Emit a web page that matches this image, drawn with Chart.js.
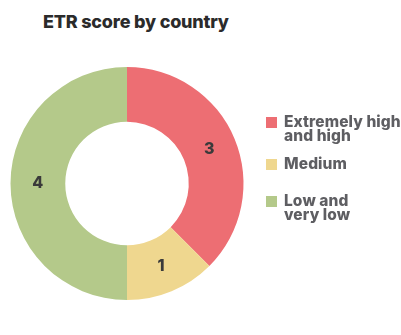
<!DOCTYPE html>
<html lang="en">
<head>
    <meta charset="UTF-8">
    <title>ETR score by country</title>
    <script src="https://cdn.jsdelivr.net/npm/chart.js"></script>
    <style>
        body {
            margin: 0;
            background: #fff;
            font-family: Inter, "Noto Sans", Arial, sans-serif;
        }
        #wrap {
            position: relative;
            width: 401px;
            height: 335px;
            overflow: hidden;
        }
        #etr-chart {
            position: absolute;
            left: 0;
            top: 0;
        }
        h1 {
            position: absolute;
            left: 43px;
            top: 13px;
            margin: 0;
            font-size: 18px;
            line-height: 18px;
            font-weight: 800;
            color: #2b2b2b;
            letter-spacing: -0.2px;
            white-space: nowrap;
        }
        #legend {
            position: absolute;
            left: 266px;
            top: 0;
            margin: 0;
            padding: 0;
            list-style: none;
        }
        #legend li {
            position: absolute;
            left: 0;
            display: flex;
            align-items: flex-start;
            font-size: 15.5px;
            line-height: 14px;
            font-weight: 800;
            color: #5e5e62;
            letter-spacing: 0.1px;
            white-space: nowrap;
        }
        #legend li:nth-child(1) { top: 115px; }
        #legend li:nth-child(2) { top: 157px; }
        #legend li:nth-child(3) { top: 194px; }
        #legend .box {
            width: 11px;
            height: 11px;
            margin-top: 2px;
            margin-right: 7px;
            flex: none;
        }
    </style>
</head>
<body>
    <div id="wrap">
        <h1>ETR score by country</h1>
        <canvas id="etr-chart" width="401" height="335"></canvas>
        <ul id="legend"></ul>
    </div>

    <script>
        // Countries per ETR score band
        const bands = [['Extremely high', 'and high'], ['Medium'], ['Low and', 'very low']];
        const countryCounts = [3, 1, 4];
        const bandColors = ['#ED6E73', '#EFD78F', '#B4C98A'];

        // Writes each slice's count in the middle of its ring segment
        const sliceLabels = {
            id: 'sliceLabels',
            afterDatasetsDraw(chart) {
                const ctx = chart.ctx;
                const meta = chart.getDatasetMeta(0);
                ctx.save();
                ctx.font = '800 16px Inter, "Noto Sans", Arial, sans-serif';
                ctx.fillStyle = '#3a3a3a';
                ctx.textAlign = 'center';
                ctx.textBaseline = 'middle';
                meta.data.forEach((arc, i) => {
                    const pos = arc.tooltipPosition();
                    ctx.fillText(String(chart.data.datasets[0].data[i]), pos.x, pos.y);
                });
                ctx.restore();
            }
        };

        const ctx = document.getElementById('etr-chart').getContext('2d');
        const chart = new Chart(ctx, {
            type: 'doughnut',
            data: {
                labels: bands.map(b => b.join(' ')),
                datasets: [{
                    data: countryCounts,
                    backgroundColor: bandColors,
                    borderWidth: 0,
                    hoverOffset: 0
                }]
            },
            options: {
                responsive: false,
                animation: false,
                cutout: '53%',
                layout: {
                    padding: { left: 10.5, top: 67, right: 157.5, bottom: 35 }
                },
                plugins: {
                    legend: { display: false },
                    tooltip: { enabled: false }
                }
            },
            plugins: [sliceLabels]
        });

        // Legend list on the right, one entry per band
        const legend = document.getElementById('legend');
        bands.forEach((lines, i) => {
            const li = document.createElement('li');
            const box = document.createElement('span');
            box.className = 'box';
            box.style.background = bandColors[i];
            const text = document.createElement('span');
            text.innerHTML = lines.join('<br>');
            li.appendChild(box);
            li.appendChild(text);
            legend.appendChild(li);
        });
    </script>
</body>
</html>
